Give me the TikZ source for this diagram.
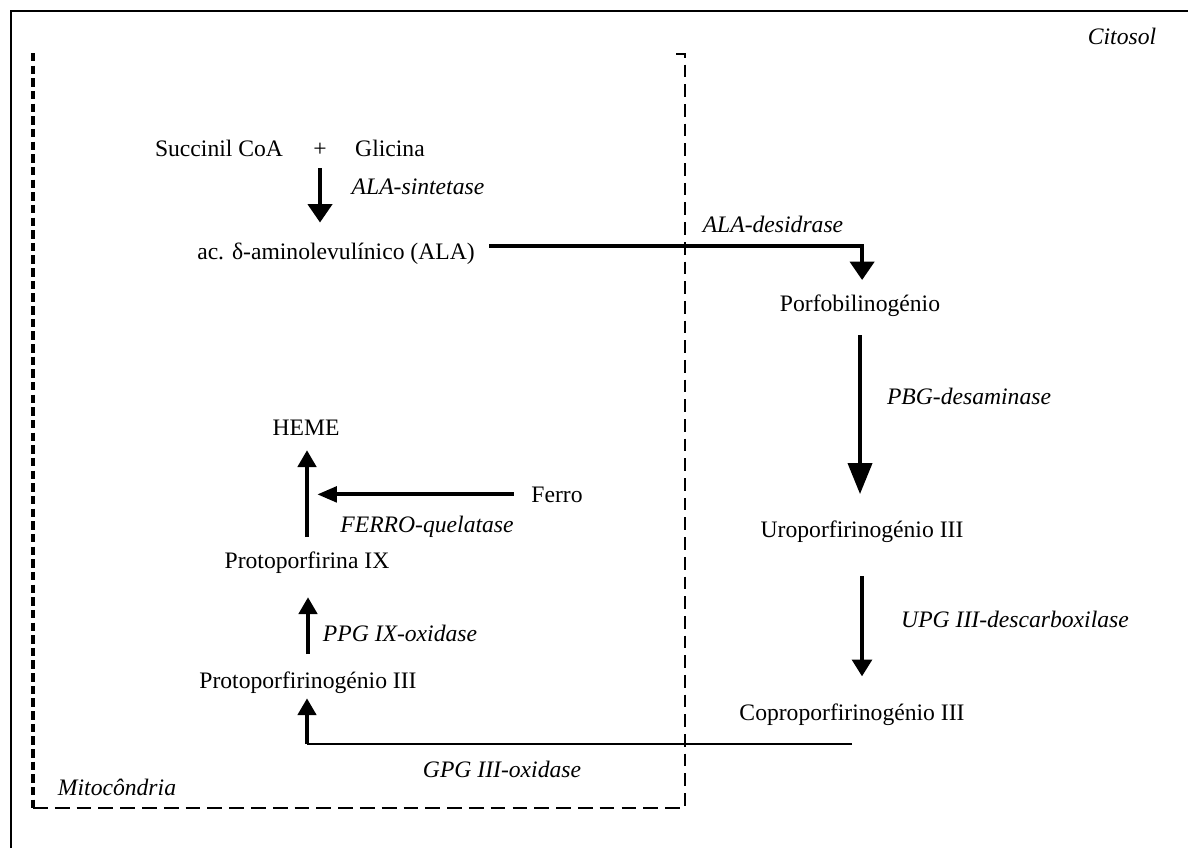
\documentclass[tikz,border=0pt]{standalone}
\usepackage{fontspec}
\setmainfont{Liberation Serif}
\usetikzlibrary{arrows.meta}
\tikzset{
  composto/.style={anchor=base, inner sep=2pt, font=\fontsize{16.8}{20}\selectfont},
  enzima/.style={composto, font=\fontsize{16.8}{20}\selectfont\itshape},
  seta/.style={line width=2.8pt, -{Triangle[width=13pt,length=12pt]}},
  setalarga/.style={line width=2.8pt, -{Triangle[width=17pt,length=13pt]}},
  setalonga/.style={line width=2.8pt, -{Triangle[width=17pt,length=22pt]}},
  fino/.style={line width=1.8pt},
}
\begin{document}
\begin{tikzpicture}[x=0.025cm, y=-0.025cm]
\useasboundingbox (0,0) rectangle (1188,848);
% moldura e compartimentos
\draw[line width=2pt] (11,848) -- (11,11) -- (1188,11);
\draw[line width=2.8pt, dash pattern=on 6pt off 3pt] (33,53) -- (33,808);
\draw[line width=1.8pt, dash pattern=on 10.5pt off 5pt] (33,808) -- (685,808);
\draw[line width=1.2pt, dash pattern=on 9pt off 5pt] (676,54) -- (685,54) -- (685,808);
\node[enzima] (citosol) at (1122,44) {Citosol};
\node[enzima] (mito) at (117,795) {Mitocôndria};

% compostos
\node[composto] (succ) at (219,156) {Succinil CoA};
\node[composto] (mais) at (320,156) {+};
\node[composto] (glic) at (390,156) {Glicina};
\node[composto] (ala) at (336,259) {ac. δ-aminolevulínico (ALA)};
\node[composto] (porf) at (860,311) {Porfobilinogénio};
\node[composto] (uro) at (862,537) {Uroporfirinogénio III};
\node[composto] (copro) at (852,720) {Coproporfirinogénio III};
\node[composto] (protogen) at (308,688) {Protoporfirinogénio III};
\node[composto] (protoIX) at (307,568) {Protoporfirina IX};
\node[composto] (heme) at (306,435) {HEME};
\node[composto] (ferro) at (557,502) {Ferro};

% enzimas
\node[enzima] (alasint) at (418,194) {ALA-sintetase};
\node[enzima] (aladesid) at (773,232) {ALA-desidrase};
\node[enzima] (pbgdes) at (969,404) {PBG-desaminase};
\node[enzima] (upgdes) at (1015,627) {UPG III-descarboxilase};
\node[enzima] (gpgox) at (502,777) {GPG III-oxidase};
\node[enzima] (ppgox) at (400,641) {PPG IX-oxidase};
\node[enzima] (ferroq) at (427,532) {FERRO-quelatase};

% setas
\draw[setalarga] ([yshift=-6.5pt]mais.south) -- ([yshift=12pt]mais.south |- ala.north);
\draw[setalarga] ([xshift=8pt,yshift=5pt]ala.east) -| ([xshift=1.5pt,yshift=8pt]porf.north);
\draw[setalonga] ([yshift=-11.5pt]porf.south) -- ([yshift=16.5pt]porf.south |- uro.north);
\draw[seta, -{Triangle[width=14pt,length=12pt]}] ([yshift=-22pt]uro.south) -- ([yshift=17pt]uro.south |- copro.north);
\coordinate (canto) at (307,744);
\draw[fino] (canto -| copro.south) -- (canto);
\draw[seta] (canto) -- ([yshift=-1.5pt]protogen.south -| canto);
\draw[seta] ([yshift=10pt]protogen.north) -- ([yshift=-15pt]protogen.north |- protoIX.south);
\draw[seta] ([yshift=8pt]protoIX.north) -- ([yshift=-8.6pt]protoIX.north |- heme.south);
\draw[seta, -{Triangle[width=11pt,length=14pt]}] ([xshift=-10.5pt]ferro.west) -- ([xshift=8pt]heme.south |- ferro.west);
\end{tikzpicture}
\end{document}
